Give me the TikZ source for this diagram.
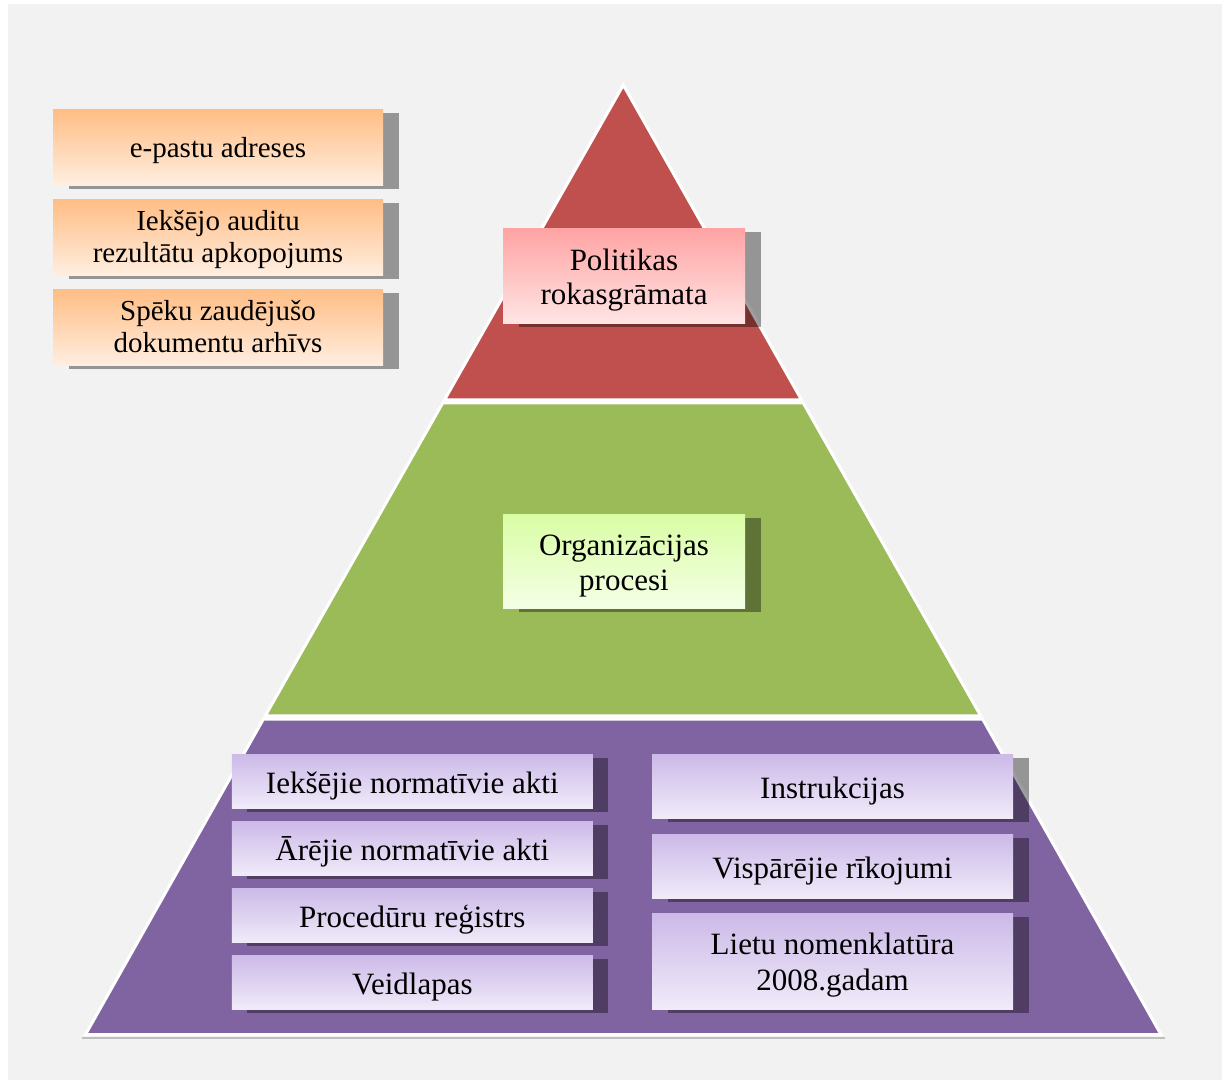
\documentclass[tikz,border=0pt]{standalone}
\usepackage{fontspec}
\setmainfont{Liberation Serif}
\usetikzlibrary{shadows}

\definecolor{panelgray}{HTML}{F2F2F2}
\definecolor{tierred}{HTML}{C0504D}
\definecolor{tiergreen}{HTML}{9BBB59}
\definecolor{tierpurple}{HTML}{8064A2}
\definecolor{baseedge}{HTML}{BFBFBF}
\definecolor{orangetop}{HTML}{FFBD84}
\definecolor{orangebot}{HTML}{FFEEE0}
\definecolor{pinktop}{HTML}{FFA3A3}
\definecolor{pinkbot}{HTML}{FFE4E4}
\definecolor{greentop}{HTML}{D9FDA4}
\definecolor{greenbot}{HTML}{F4FFE6}
\definecolor{lilactop}{HTML}{CCB9E8}
\definecolor{lilacbot}{HTML}{F0EBF9}

\tikzset{
  boxshadow/.style={drop shadow={shadow xshift=15.5pt, shadow yshift=-4pt,
      fill=black, opacity=0.38}},
  card/.style={rectangle, inner sep=0pt, align=center, text=black, boxshadow},
  % text boxes of fixed height and depth keep every baseline in the same place
  oneline/.style={text height=26pt, text depth=2pt},
  twoline/.style={text height=62pt, text depth=3.5pt},
  sidecard/.style={card, minimum width=330pt, minimum height=76pt,
      top color=orangetop, bottom color=orangebot,
      font=\fontsize{29}{32.5}\selectfont},
  sideone/.style={sidecard, text height=24pt, text depth=4pt},
  sidetwo/.style={sidecard, text height=55pt, text depth=3.5pt},
  topcard/.style={card, twoline, minimum width=242pt, minimum height=95pt,
      top color=pinktop, bottom color=pinkbot,
      font=\fontsize{31}{34.5}\selectfont},
  midcard/.style={card, twoline, minimum width=242pt, minimum height=94pt,
      top color=greentop, bottom color=greenbot,
      font=\fontsize{31}{34.5}\selectfont},
  basecard/.style={card, minimum width=361pt,
      top color=lilactop, bottom color=lilacbot,
      font=\fontsize{31}{35.5}\selectfont},
  tier/.style={draw=white, line width=3pt, line join=miter},
}

\begin{document}
\begin{tikzpicture}[x=1pt, y=-1pt]
  \useasboundingbox (0,0) rectangle (1222,1080);
  % page and panel
  \fill[white] (0,0) rectangle (1222,1080);
  \fill[panelgray] (8,4) rectangle (1222,1080);

  % soft line under the base of the pyramid
  \draw[baseedge, line width=1.5pt] (82,1038) -- (1165,1038);

  % pyramid tiers
  \filldraw[tier, fill=tierpurple] (263.3,719.2) -- (982.7,719.2) -- (1161,1034.5) -- (85.5,1034.5) -- cycle;
  \filldraw[tier, fill=tiergreen] (442.8,402.8) -- (803.2,402.8) -- (980.7,715.8) -- (265.3,715.8) -- cycle;
  \filldraw[tier, fill=tierred] (623.3,85) -- (801.5,399.8) -- (444.5,399.8) -- cycle;

  % boxes beside the pyramid
  \node[sideone] (mail) at (218,147) {e-pastu adreses};
  \node[sidetwo] (audit) at (218,237) {Iekšējo auditu\\rezultātu apkopojums};
  \node[sidetwo] (archive) at (218,327) {Spēku zaudējušo\\dokumentu arhīvs};

  % top tier
  \node[topcard] (policy) at (624,275.5) {Politikas\\rokasgrāmata};

  % middle tier
  \node[midcard] (process) at (624,561) {Organizācijas\\procesi};

  % base tier, left column
  \node[basecard, oneline, minimum height=54pt] (internal) at (412.3,781) {Iekšējie normatīvie akti};
  \node[basecard, oneline, minimum height=54pt] (external) at (412.3,848) {Ārējie normatīvie akti};
  \node[basecard, oneline, minimum height=54pt] (register) at (412.3,915.3) {Procedūru reģistrs};
  \node[basecard, oneline, minimum height=54pt] (forms) at (412.3,982) {Veidlapas};

  % base tier, right column
  \node[basecard, oneline, minimum height=64pt] (instr) at (832.5,786) {Instrukcijas};
  \node[basecard, oneline, minimum height=64pt] (orders) at (832.5,866) {Vispārējie rīkojumi};
  \node[basecard, text height=62pt, text depth=3.5pt, minimum height=96pt] (nomencl) at (832.5,961) {Lietu nomenklatūra\\2008.gadam};
\end{tikzpicture}
\end{document}
